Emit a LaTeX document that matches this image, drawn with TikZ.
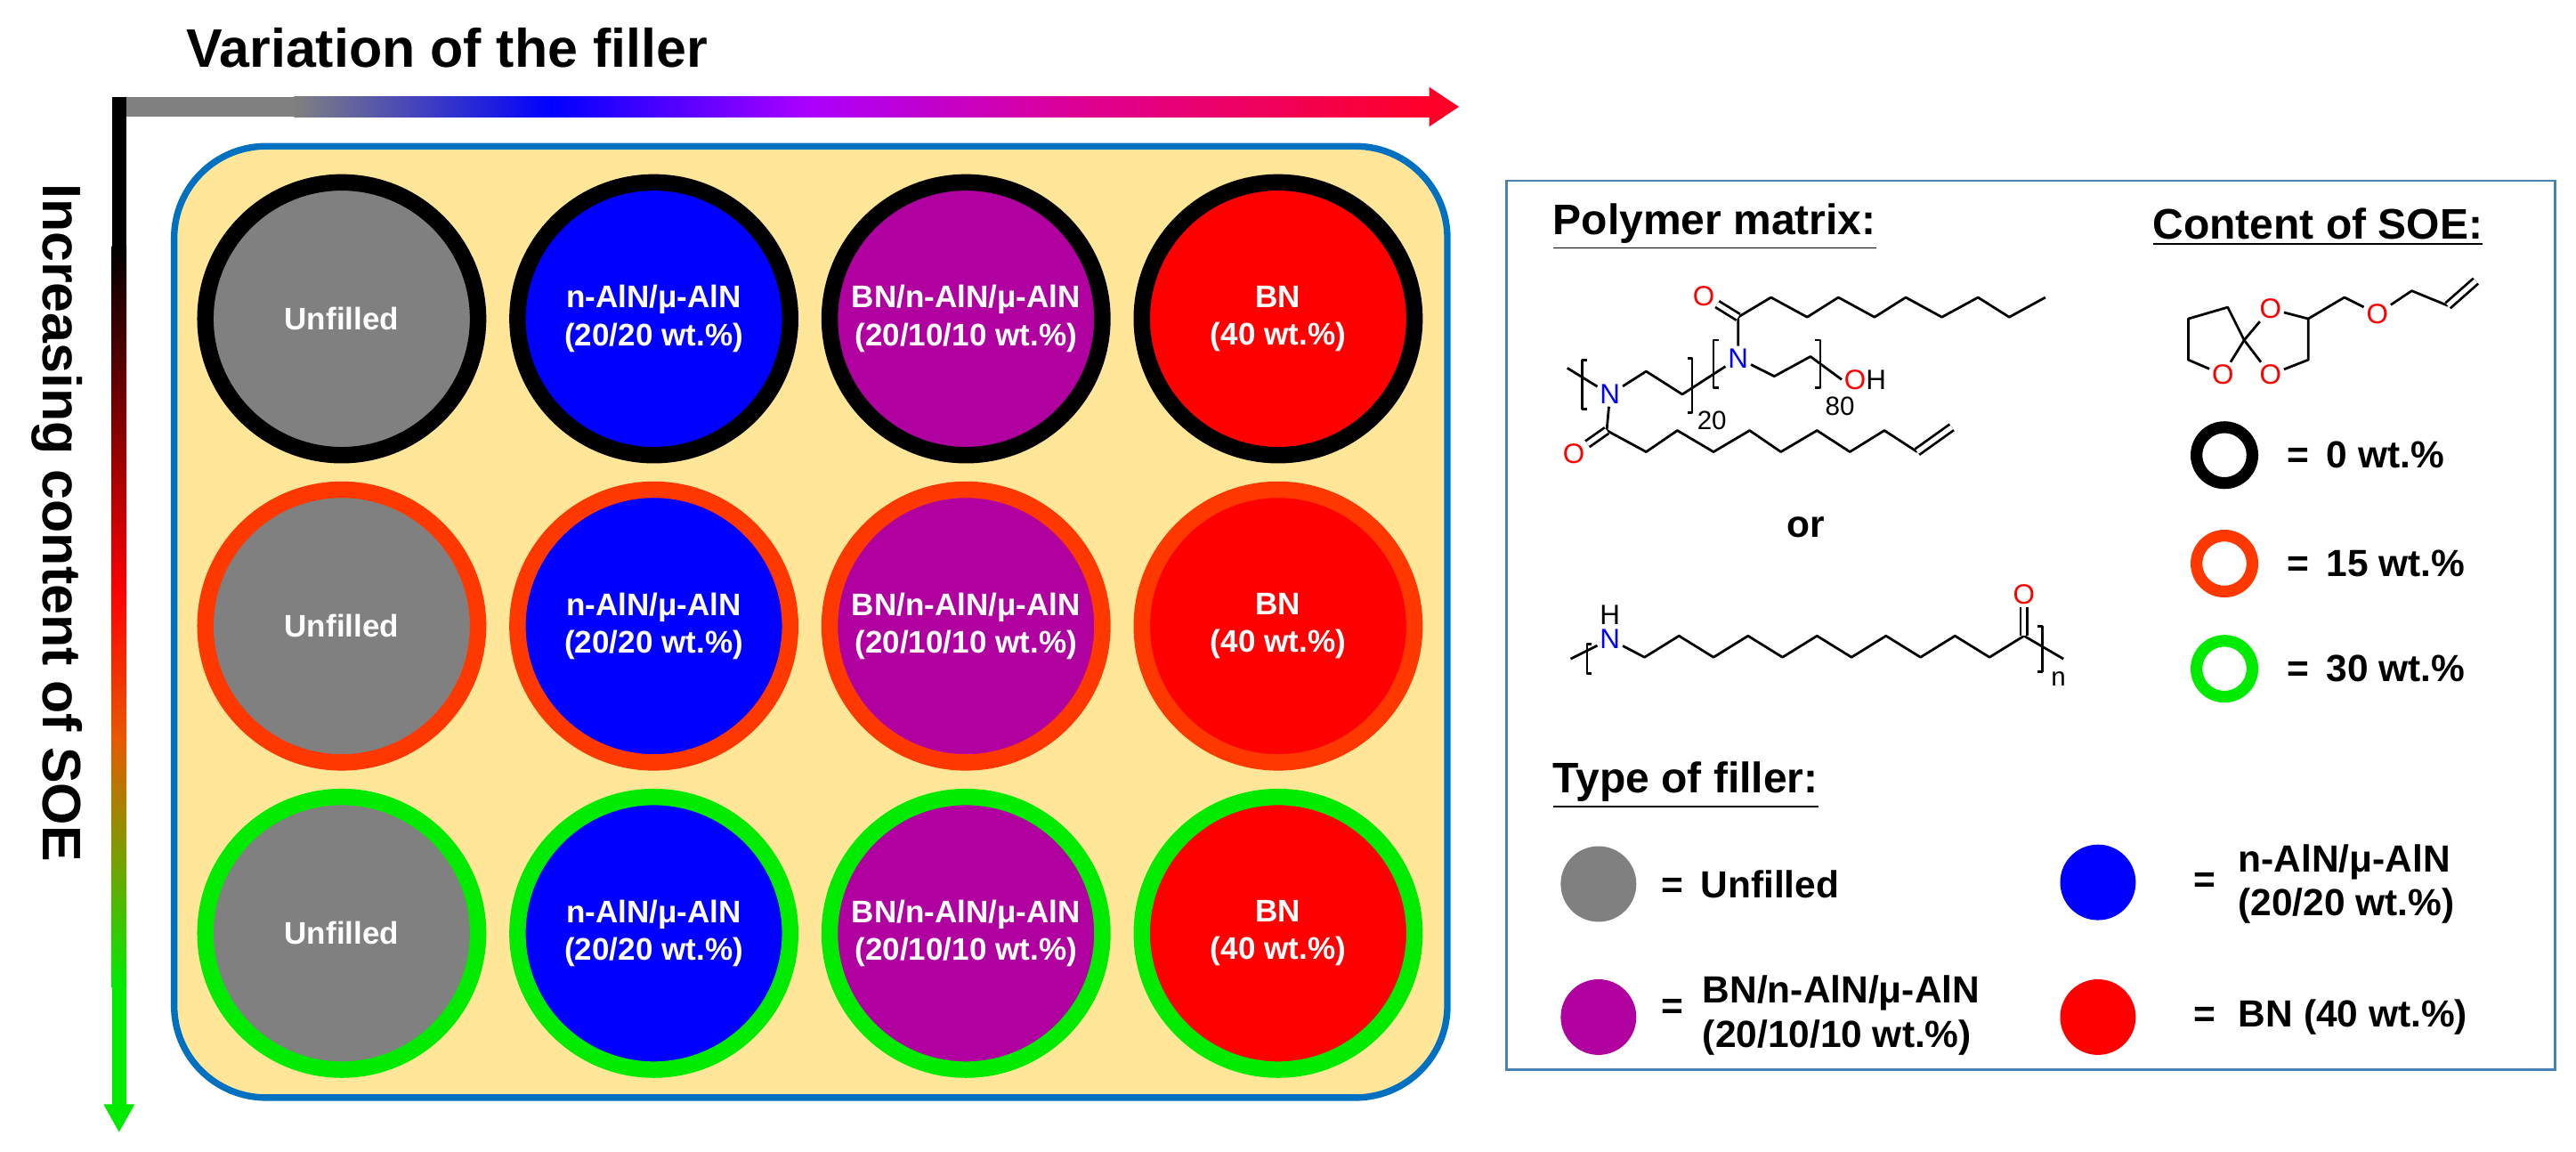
\documentclass[tikz,border=0pt]{standalone}
\usepackage{fontspec}
\setmainfont{Liberation Sans}
\begin{document}
\begin{tikzpicture}[x=0.5pt,y=-0.5pt,
  lbl/.style={font=\bfseries\fontsize{9.5}{11.5}\selectfont, text=white, align=center},
  ring/.style={circle, minimum size=83pt, line width=5pt, inner sep=0pt},
  chem/.style={line width=0.75pt, line join=round},
  atomN/.style={text=blue, font=\fontsize{8.5}{9}\selectfont, inner sep=0.6pt},
  atomO/.style={text=red, font=\fontsize{8.5}{9}\selectfont, inner sep=0.6pt},
  sub/.style={font=\fontsize{8}{9}\selectfont, inner sep=0pt},
  legtxt/.style={font=\bfseries\fontsize{11.5}{13.5}\selectfont, align=left, anchor=west, inner sep=0pt},
  head/.style={font=\bfseries\fontsize{13}{15}\selectfont, anchor=west, inner sep=0pt},
  legdot/.style={circle, minimum size=23pt, inner sep=0pt},
  legring/.style={circle, minimum size=17pt, line width=3.6pt, inner sep=0pt}]
\definecolor{cgray}{RGB}{128,128,128}
\definecolor{cblue}{RGB}{0,0,255}
\definecolor{cpurp}{RGB}{176,0,160}
\definecolor{cred}{RGB}{255,0,0}
\definecolor{rorange}{RGB}{255,56,0}
\definecolor{rgreen}{RGB}{0,235,0}
\definecolor{boxyel}{RGB}{255,230,153}
\definecolor{boxblue}{RGB}{0,112,192}
\definecolor{legblue}{RGB}{70,130,180}
\definecolor{violet1}{RGB}{170,0,255}
\definecolor{mag1}{RGB}{220,0,150}
\definecolor{red1}{RGB}{255,0,40}
\definecolor{orng}{RGB}{230,90,0}
\useasboundingbox (0,0) rectangle (1568,701);
% title
\node[font=\bfseries\fontsize{16.5}{18}\selectfont, anchor=west, inner sep=0pt] (title) at (113,29) {Variation of the filler};
% horizontal gradient arrow
\fill[cgray] (70,59) rectangle (180,71);
\shade[left color=cgray, right color=cblue] (179,59) rectangle (336,71);
\shade[left color=cblue, right color=violet1] (335,59) rectangle (491,71);
\shade[left color=violet1, right color=mag1] (490,59) rectangle (651,71);
\shade[left color=mag1, right color=red1] (650,59) rectangle (871,71);
\fill[red1] (870,53) -- (888,65) -- (870,77) -- cycle;
% vertical gradient arrow
\fill[black] (68,59) rectangle (77,151);
\shade[top color=black, bottom color=cred] (68,150) rectangle (77,361);
\shade[top color=cred, bottom color=orng] (68,360) rectangle (77,451);
\shade[top color=orng, bottom color=rgreen] (68,450) rectangle (77,601);
\fill[rgreen] (68,600) rectangle (77,674);
\fill[rgreen] (63,672) -- (82,672) -- (72.5,689) -- cycle;
\node[font=\bfseries\fontsize{16.5}{18}\selectfont, rotate=-90, inner sep=0pt] (vtitle) at (35,318) {Increasing content of SOE};
% main box
\draw[boxblue, line width=2pt, fill=boxyel, rounded corners=28pt] (106,89) rectangle (881,668);
% circles
\foreach \r/\y/\rc in {1/194/black, 2/381/rorange, 3/568/rgreen}{
  \node[ring, draw=\rc, fill=cgray, lbl] (u\r) at (208,\y) {Unfilled};
  \node[ring, draw=\rc, fill=cblue, lbl] (a\r) at (398,\y) {n-AlN/μ-AlN\\(20/20 wt.\%)};
  \node[ring, draw=\rc, fill=cpurp, lbl] (b\r) at (588,\y) {BN/n-AlN/μ-AlN\\(20/10/10 wt.\%)};
  \node[ring, draw=\rc, fill=cred, lbl] (c\r) at (778,\y) {BN\\(40 wt.\%)};
}
% legend box
\draw[legblue, line width=0.8pt] (917,110) rectangle (1555,651);
\node[head] (pm) at (945,138) {\underline{Polymer matrix:}};
\node[head] (cs) at (1310,138) {\underline{Content of SOE:}};
\node[head] (tf) at (945,478) {\underline{Type of filler:}};
% polymer 1
\coordinate (s1) at (954,224);
\node[atomN] (N1) at (980,240) {N};
\coordinate (p1) at (1002,226);
\coordinate (p2) at (1024,240);
\node[atomN] (N2) at (1058,218) {N};
\coordinate (p3) at (1080,229);
\coordinate (p4) at (1102,217);
\node[font=\fontsize{8.5}{9}\selectfont, anchor=west, inner sep=0.6pt] (OH) at (1121,231) {\textcolor{red}{O}H};
\draw[chem] (s1) -- (N1) -- (p1) -- (p2) -- (N2) -- (p3) -- (p4) -- (OH.west);
\coordinate (c1) at (1058,193);
\node[atomO] (O1) at (1037,180) {O};
\draw[chem] (N2) -- (c1) -- (1078,181) -- (1100,193) -- (1119,181) -- (1141,193) -- (1160,181) -- (1182,193) -- (1204,181) -- (1223,193) -- (1245,181);
\draw[chem, double, double distance=1.4pt] (c1) -- (O1);
\coordinate (c2) at (978,262);
\node[atomO] (O2) at (958,276) {O};
\draw[chem] (N1) -- (c2) -- (1002,275) -- (1021,262) -- (1043,275) -- (1065,262) -- (1084,275) -- (1106,262) -- (1126,275) -- (1147,262) -- (1167,275);
\draw[chem, double, double distance=1.4pt] (1167,275) -- (1188,260);
\draw[chem, double, double distance=1.4pt] (c2) -- (O2);
% brackets
\draw[chem] (966,219) -- (963,219) -- (963,249) -- (966,249);
\draw[chem] (1027,218) -- (1030,218) -- (1030,251) -- (1027,251);
\draw[chem] (1046,207) -- (1043,207) -- (1043,236) -- (1046,236);
\draw[chem] (1105,207) -- (1108,207) -- (1108,236) -- (1105,236);
\node[sub] (n20) at (1042,256) {20};
\node[sub] (n80) at (1120,247) {80};
\node[font=\bfseries\fontsize{11.5}{13}\selectfont] (or) at (1099,321) {or};
% polymer 2
\node[atomN] (N3) at (980,389) {N};
\node[font=\fontsize{8.5}{9}\selectfont, inner sep=0.6pt] (H3) at (980,374) {H};
\coordinate (s3) at (956,401);
\draw[chem] (s3) -- (N3);
\draw[chem] (N3) -- (1001,400) -- (1022,387) -- (1043,400) -- (1064,387) -- (1085,400) -- (1106,387) -- (1127,400) -- (1148,387) -- (1169,400) -- (1190,387) -- (1211,400) -- (1232,387) -- (1256,401);
\node[atomO] (O3) at (1232,362) {O};
\draw[chem, double, double distance=1.4pt] (1232,387) -- (O3);
\draw[chem] (969,392) -- (966,392) -- (966,410) -- (969,410);
\draw[chem] (1240,381) -- (1243,381) -- (1243,409) -- (1240,409);
\node[sub] (nn) at (1253,413) {n};
% SOE molecule
\coordinate (sp) at (1366,207);
\coordinate (l1) at (1356,187);
\coordinate (l2) at (1332,194);
\coordinate (l3) at (1332,219);
\node[atomO] (lo) at (1353,228) {O};
\node[atomO] (ro1) at (1382,188) {O};
\coordinate (r2) at (1405,194);
\coordinate (r3) at (1405,219);
\node[atomO] (ro4) at (1382,228) {O};
\draw[chem] (sp) -- (l1) -- (l2) -- (l3) -- (lo) -- (sp);
\draw[chem] (sp) -- (ro1) -- (r2) -- (r3) -- (ro4) -- (sp);
\node[atomO] (so) at (1447,191) {O};
\draw[chem] (r2) -- (1427,181) -- (so) -- (1468,177) -- (1490,186);
\draw[chem, double, double distance=1.4pt] (1490,186) -- (1507,171);
% SOE legend rings
\foreach \yy/\cc/\tt/\nm in {277/black/0 wt.\%/k0, 343/rorange/15 wt.\%/k15, 407/rgreen/30 wt.\%/k30}{
  \node[legring, draw=\cc] (\nm) at (1354,\yy) {};
  \node[legtxt] (\nm t) at (1392,\yy) {=\hspace{0.45em}\tt};
}
% filler legend
\node[legdot, fill=cgray] (fg) at (973,538) {};
\node[legtxt] (fgt) at (1011,538) {=\hspace{0.45em}Unfilled};
\node[legdot, fill=cblue] (fb) at (1277,537) {};
\node[legtxt] (fbe) at (1335,537) {=};
\node[legtxt] (fbt) at (1362,538) {n-AlN/μ-AlN\\(20/20 wt.\%)};
\node[legdot, fill=cpurp] (fp) at (973,619) {};
\node[legtxt] (fpe) at (1011,614) {=};
\node[legtxt] (fpt) at (1036,618) {BN/n-AlN/μ-AlN\\(20/10/10 wt.\%)};
\node[legdot, fill=cred] (fr) at (1277,619) {};
\node[legtxt] (frt) at (1335,619) {=\hspace{0.6em}BN (40 wt.\%)};
\end{tikzpicture}
\end{document}
